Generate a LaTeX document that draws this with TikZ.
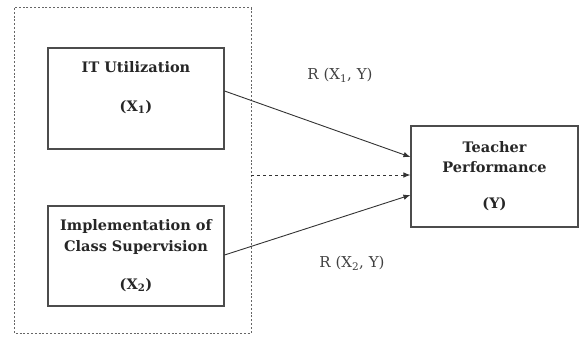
\documentclass[tikz,border=0pt]{standalone}
\usepackage{fontspec}
\setmainfont{DejaVu Serif}
\usetikzlibrary{arrows.meta}
\begin{document}
\begin{tikzpicture}[x=1pt,y=-1pt,
  box/.style={draw=black!70,line width=1.1pt,inner sep=0pt},
  conn/.style={draw=black!80,line width=0.9pt,-{Latex[length=7pt,width=5.5pt]}},
  lbl/.style={font=\fontsize{14.5}{16}\selectfont\bfseries,text=black!85},
  rl/.style={font=\fontsize{15}{17}\selectfont,text=black!75}]
\useasboundingbox (0,0) rectangle (579,337);
\draw[black!60,line width=1pt,dash pattern=on 2pt off 1.8pt] (14,8) rectangle (251,333);
\node[box,minimum width=176pt,minimum height=101pt] (x1) at (136,98.5) {};
\node[box,minimum width=176pt,minimum height=100pt] (x2) at (136,256) {};
\node[box,minimum width=167pt,minimum height=101pt] (y) at (494.5,176.5) {};
\node[lbl] (t1) at (136,67) {IT Utilization};
\node[lbl] (t1b) at (136,107) {(X\textsubscript{1})};
\node[lbl] (t2) at (136,226) {Implementation of};
\node[lbl] (t2b) at (136,247) {Class Supervision};
\node[lbl] (t2c) at (136,285) {(X\textsubscript{2})};
\node[lbl] (t3) at (494.5,147) {Teacher};
\node[lbl] (t3b) at (494.5,167) {Performance};
\node[lbl] (t3c) at (494.5,204) {(Y)};
\coordinate (d) at (251,175);
\draw[conn] (x1.east |- 0,91) -- (y.west |- 0,157);
\draw[conn] (x2.east |- 0,255) -- (y.west |- 0,195);
\draw[conn,dashed] (d) -- (y.west |- d);
\node[rl] (r1) at (340,75) {R (X\textsubscript{1}, Y)};
\node[rl] (r2) at (352,263) {R (X\textsubscript{2}, Y)};
\end{tikzpicture}
\end{document}
